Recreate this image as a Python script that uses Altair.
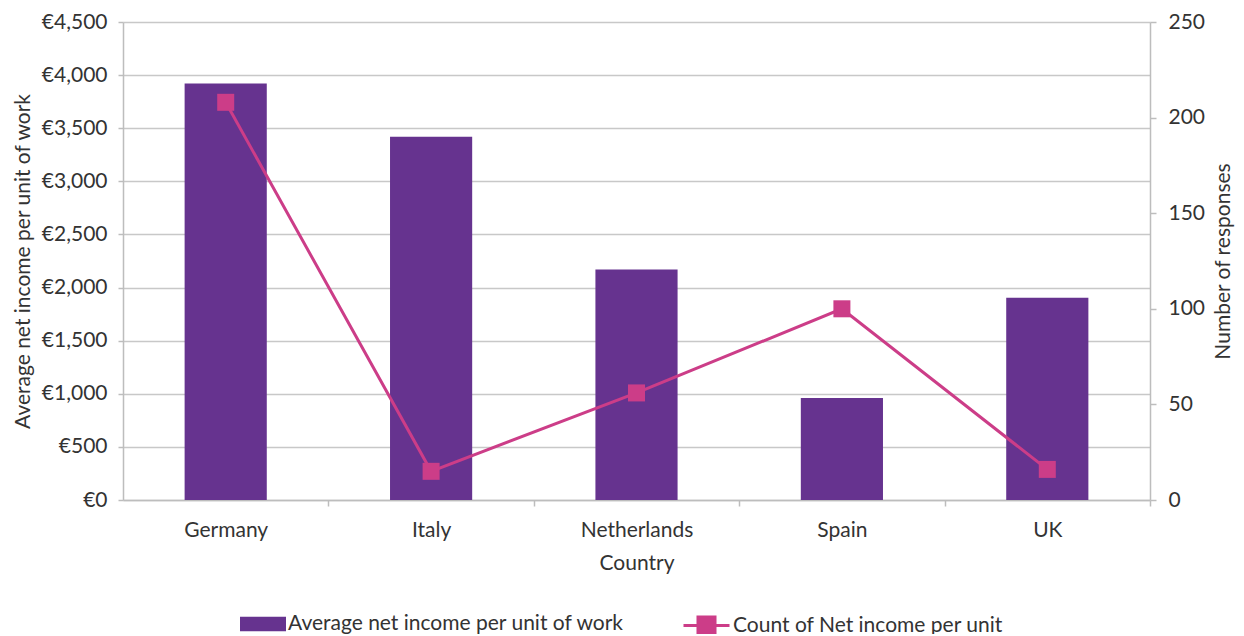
import altair as alt
import pandas as pd

countries = ["Germany", "Italy", "Netherlands", "Spain", "UK"]
avg_income = [3920, 3420, 2170, 960, 1905]
responses = [208, 15, 56, 100, 16]
bar_series = "Average net income per unit of work"
line_series = "Count of Net income per unit"
income_ticks = [0, 500, 1000, 1500, 2000, 2500, 3000, 3500, 4000, 4500]
count_ticks = [0, 50, 100, 150, 200, 250]

df = pd.DataFrame({
    "Country": countries,
    "income": avg_income,
    "count": responses,
    "bar_s": [bar_series] * len(countries),
    "line_s": [line_series] * len(countries),
})

PURPLE = "#66338f"
PINK = "#cc3d88"
FONT = "Lato"
FS = 21
TEXT = "#333333"
GRID = "#c8c8c8"
AXISC = "#bdbdbd"

W = 1027
H = 478
STEP = W / 5.0
HALF_GAP = STEP * 0.6 / 2

x_enc = alt.X(
    "Country:N",
    sort=countries,
    scale=alt.Scale(paddingInner=0.6, paddingOuter=0.3),
    axis=alt.Axis(
        title="Country", labelAngle=0, bandPosition=1,
        tickOffset=HALF_GAP, labelOffset=-HALF_GAP, tickSize=6,
        labelPadding=13, titlePadding=12, domainColor=AXISC, tickColor=AXISC,
        domainWidth=1.5, tickWidth=1.5,
    ),
)

bars = alt.Chart(df).mark_bar().encode(
    x=x_enc,
    y=alt.Y(
        "income:Q",
        scale=alt.Scale(domain=[0, 4500], nice=False),
        axis=alt.Axis(
            title="Average net income per unit of work",
            values=income_ticks,
            labelExpr="'€' + format(datum.value, ',')",
            grid=True, gridColor=GRID, gridWidth=1.5,
            domainColor=AXISC, tickColor=AXISC, domainWidth=1.5, tickWidth=1.5,
            tickSize=5, labelPadding=11, titlePadding=8,
        ),
    ),
    fill=alt.Fill(
        "bar_s:N",
        scale=alt.Scale(range=[PURPLE]),
        legend=alt.Legend(
            title=None, orient="none", legendX=117, legendY=579,
            symbolType="M-1,-0.32H1V0.32H-1Z", symbolSize=2116,
            symbolStrokeWidth=0, labelOffset=2, labelLimit=600,
        ),
    ),
)

y2 = alt.Y(
    "count:Q",
    scale=alt.Scale(domain=[0, 250], nice=False),
    axis=alt.Axis(
        title="Number of responses", orient="right", values=count_ticks,
        grid=False, titleAngle=270,
        domainColor=AXISC, tickColor=AXISC, domainWidth=1.5, tickWidth=1.5,
        tickSize=6, labelPadding=12, titlePadding=29,
    ),
)

line = alt.Chart(df).mark_line(strokeWidth=3).encode(
    x=alt.X("Country:N", sort=countries),
    y=y2,
    stroke=alt.Stroke(
        "line_s:N",
        scale=alt.Scale(range=[PINK]),
        legend=alt.Legend(
            title=None, orient="none", legendX=559, legendY=579,
            symbolType="M-1,0H1M-0.37,-0.37H0.37V0.37H-0.37Z", symbolSize=2116,
            symbolStrokeWidth=3, symbolFillColor=PINK, labelOffset=2, labelLimit=600,
        ),
    ),
)

points = alt.Chart(df).mark_point(shape="square", filled=True, size=289, opacity=1, color=PINK).encode(
    x=alt.X("Country:N", sort=countries),
    y=y2,
)

right = alt.layer(line, points)

chart = alt.layer(bars, right).resolve_scale(y="independent").properties(
    width=W, height=H,
    autosize=alt.AutoSizeParams(type="none"),
    padding={"left": 115, "top": 14, "right": 86, "bottom": 134},
).configure_view(stroke=None).configure_axis(
    labelFont=FONT, titleFont=FONT, labelFontSize=FS, titleFontSize=FS,
    labelColor=TEXT, titleColor=TEXT, titleFontWeight="normal",
).configure_legend(
    labelFont=FONT, labelFontSize=FS, labelColor=TEXT,
)

chart.save("out.html", embed_options={"renderer": "svg", "actions": False})
